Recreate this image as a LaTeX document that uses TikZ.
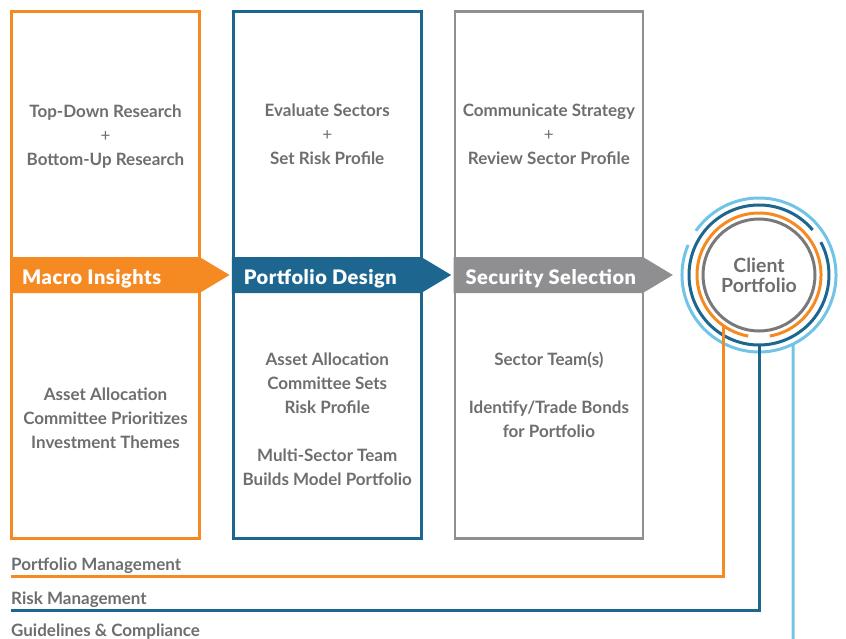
\documentclass[tikz,border=0pt]{standalone}
\usepackage{fontspec}
\setmainfont{Lato}
\newfontfamily\bannerfont{Lato Black}
\usetikzlibrary{positioning}
\definecolor{macroorange}{HTML}{F58A23}
\definecolor{designblue}{HTML}{1C6690}
\definecolor{selectgray}{HTML}{8F8F91}
\definecolor{ringgray}{HTML}{79797B}
\definecolor{skyblue}{HTML}{72C4E6}
\definecolor{labelgray}{HTML}{6D6E70}
\tikzset{
  stagebox/.style={rectangle, draw, line width=2.8pt, minimum width=188pt, minimum height=527pt, inner sep=0pt, outer sep=0pt},
  note/.style={align=center, text=labelgray, font=\fontsize{17}{24}\selectfont\bfseries},
  banner/.style={anchor=west, inner sep=0pt, text=white, font=\fontsize{20}{22}\selectfont\bannerfont\addfontfeature{LetterSpace=2.5}},
  ring/.style={line width=3pt},
  track/.style={line width=3pt},
  tracklabel/.style={anchor=west, inner sep=0pt, text=labelgray, font=\fontsize{17}{20}\selectfont\bfseries},
}

\begin{document}
\begin{tikzpicture}[x=1pt, y=1pt, node distance=33.7pt]
  \useasboundingbox (0,0) rectangle (846,-639);

  \node[stagebox, draw=macroorange] (macro) at (105.5,-275) {};
  \node[stagebox, draw=designblue] (design) [right=of macro] {};
  \node[stagebox, draw=selectgray] (select) [right=of design] {};

  % arrow bands running across the boxes
  \fill[macroorange] ([shift={(-1.4pt,18pt)}]macro.west) -- ([yshift=18pt]macro.east) -- ([xshift=30pt]macro.east) -- ([yshift=-18pt]macro.east) -- ([shift={(-1.4pt,-18pt)}]macro.west) -- cycle;
  \fill[designblue] ([shift={(-1.4pt,18pt)}]design.west) -- ([yshift=18pt]design.east) -- ([xshift=30pt]design.east) -- ([yshift=-18pt]design.east) -- ([shift={(-1.4pt,-18pt)}]design.west) -- cycle;
  \fill[selectgray] ([shift={(-1.4pt,18pt)}]select.west) -- ([yshift=18pt]select.east) -- ([xshift=30pt]select.east) -- ([yshift=-18pt]select.east) -- ([shift={(-1.4pt,-18pt)}]select.west) -- cycle;

  \node[banner] (macrolab) at ([shift={(10.5pt,-3.5pt)}]macro.west) {Macro Insights};
  \node[banner] (designlab) at ([shift={(10.5pt,-3.5pt)}]design.west) {Portfolio Design};
  \node[banner] (selectlab) at ([shift={(10.5pt,-3.5pt)}]select.west) {Security Selection};

  \node[note] (macrotop) at ([yshift=-125.5pt]macro.north) {Top-Down Research\\{\mdseries +}\\Bottom-Up Research};
  \node[note] (macrobot) at ([yshift=-406.5pt]macro.north) {Asset Allocation\\Committee Prioritizes\\Investment Themes};
  \node[note] (designtop) at ([yshift=-122.5pt]design.north) {Evaluate Sectors\\{\mdseries +}\\Set Risk Profile};
  \node[note] (designbot) at ([yshift=-407.5pt]design.north) {Asset Allocation\\Committee Sets\\Risk Profile\\[24pt]Multi-Sector Team\\Builds Model Portfolio};
  \node[note] (selecttop) at ([yshift=-122.5pt]select.north) {Communicate Strategy\\{\mdseries +}\\Review Sector Profile};
  \node[note] (selectbot) at ([yshift=-383.5pt]select.north) {Sector Team(s)\\[24pt]Identify/Trade Bonds\\for Portfolio};

  \node[circle, draw=ringgray, line width=3pt, minimum size=112pt, inner sep=0pt, align=center, text=labelgray,
        font=\fontsize{19.5}{22}\selectfont\bfseries] (client) at (759,-275) {\raisebox{-2pt}{Client}\\Portfolio};

  % open rings round the client
  \draw[ring, macroorange] ([shift={(280:62pt)}]client.center) arc[start angle=280, end angle=620, radius=62pt];
  \draw[ring, designblue] ([shift={(40:70pt)}]client.center) arc[start angle=40, end angle=388, radius=70pt];
  \draw[ring, skyblue] ([shift={(157:77pt)}]client.center) arc[start angle=157, end angle=505, radius=77pt];

  \coordinate (pmend) at (11,-576);
  \coordinate (rmend) at (11,-610);
  \coordinate (gcend) at (793,-639);

  \draw[track, macroorange] ([shift={(235.6:62pt)}]client.center) |- (pmend);
  \draw[track, designblue] ([yshift=-70pt]client.center) |- (rmend);
  \draw[track, skyblue] ([shift={(296.2:77pt)}]client.center) -- (gcend);

  \node[tracklabel] (pmlab) at (11,-566) {Portfolio Management};
  \node[tracklabel] (rmlab) at (11,-600) {Risk Management};
  \node[tracklabel] (gclab) at (11,-632) {Guidelines \& Compliance};
\end{tikzpicture}
\end{document}
